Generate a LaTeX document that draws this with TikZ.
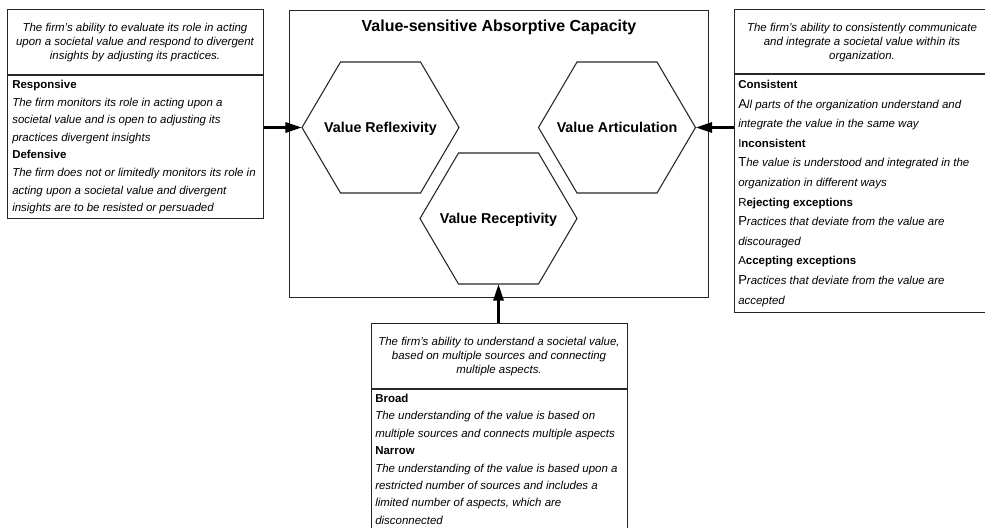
\documentclass[tikz,border=0pt]{standalone}
\usepackage{fontspec}
\setmainfont{Liberation Sans}
\usetikzlibrary{arrows.meta,calc}
\newcommand\capfirst[1]{{\upshape\fontsize{9.8}{9.8}\selectfont #1}}
\newcommand\hexagonat[1]{%
  \draw[hexline] ($(#1)+(-78.5,0)$) -- ($(#1)+(-40,-65.5)$) -- ($(#1)+(40,-65.5)$)
    -- ($(#1)+(78.5,0)$) -- ($(#1)+(40,65.5)$) -- ($(#1)+(-40,65.5)$) -- cycle;}
\begin{document}
\begin{tikzpicture}[x=0.75pt,y=-0.75pt,
  box/.style={draw=black!85, line width=0.8pt, inner sep=0, anchor=north west},
  hexline/.style={draw=black!85, line width=0.8pt},
  titlestyle/.style={font=\fontsize{12}{14}\selectfont\bfseries, inner sep=0, anchor=base},
  hexlabel/.style={font=\fontsize{10.7}{12}\selectfont\bfseries, inner sep=0, anchor=base},
  desc/.style={font=\fontsize{8.6}{10.5}\selectfont\itshape, align=center, inner sep=0, anchor=north},
  items/.style={align=left, inner sep=0, anchor=north west},
  conn/.style={line width=2.3pt, -{Triangle[length=12.5pt,width=7.5pt]}}
]
\useasboundingbox (0,0) rectangle (985,528);
\clip (0,0) rectangle (985,528);

% boxes
\node[box, minimum width=192pt, minimum height=156.75pt] (lbox) at (7,9) {};
\node[box, minimum width=192pt, minimum height=227.25pt] (rbox) at (734,9) {};
\node[box, minimum width=192pt, minimum height=166.5pt] (bbox) at (371,323) {};
\node[box, minimum width=314.25pt, minimum height=215.25pt] (mbox) at (289,10) {};

% dividers
\draw[hexline] (lbox.west |- 0,75) -- (lbox.east |- 0,75);
\draw[hexline] (rbox.west |- 0,74) -- (rbox.east |- 0,74);
\draw[hexline] (bbox.west |- 0,389) -- (bbox.east |- 0,389);

% title
\node[titlestyle] (ttl) at (499,31.5) {Value-sensitive Absorptive Capacity};

% hexagons
\coordinate (refl) at (380.5,127.5);
\coordinate (artc) at (617,127.5);
\coordinate (recp) at (498.5,218.5);
\hexagonat{refl}
\hexagonat{artc}
\hexagonat{recp}
\coordinate (reflW) at ($(refl)+(-78.5,0)$);
\coordinate (artcE) at ($(artc)+(78.5,0)$);
\coordinate (recpS) at ($(recp)+(0,65.5)$);
\node[hexlabel] (refllbl) at ($(refl)+(0,4.7)$) {Value Reflexivity};
\node[hexlabel] (artclbl) at ($(artc)+(0,4.7)$) {Value Articulation};
\node[hexlabel] (recplbl) at ($(recp)+(0,4.8)$) {Value Receptivity};

% arrows
\draw[conn] (lbox.east |- reflW) -- (reflW);
\draw[conn] (rbox.west |- artcE) -- (artcE);
\draw[conn] (bbox.north -| recpS) -- (recpS);

% left box texts
\node[desc] (ldesc) at (135,23.3) {The firm’s ability to evaluate its role in acting\\upon a societal value and respond to divergent\\insights by adjusting its practices.};
\node[items, font=\fontsize{8.6}{13.2}\selectfont] (litems) at (12,80) {%
\textbf{Responsive}\\
\textit{The firm monitors its role in acting upon a}\\
\textit{societal value and is open to adjusting its}\\
\textit{practices divergent insights}\\
\textbf{Defensive}\\
\textit{The firm does not or limitedly monitors its role in}\\
\textit{acting upon a societal value and divergent}\\
\textit{insights are to be resisted or persuaded}};

% right box texts
\node[desc] (rdesc) at (862,22.7) {The firm’s ability to consistently communicate\\and integrate a societal value within its\\organization.};
\node[items, font=\fontsize{8.6}{14.7}\selectfont] (ritems) at (738,80) {%
\textbf{Consistent}\\
\textit{\capfirst{A}ll parts of the organization understand and}\\
\textit{integrate the value in the same way}\\
I\textbf{nconsistent}\\
\textit{\capfirst{T}he value is understood and integrated in the}\\
\textit{organization in different ways}\\
R\textbf{ejecting exceptions}\\
\textit{\capfirst{P}ractices that deviate from the value are}\\
\textit{discouraged}\\
A\textbf{ccepting exceptions}\\
\textit{\capfirst{P}ractices that deviate from the value are}\\
\textit{accepted}};

% bottom box texts
\node[desc] (bdesc) at (499,337.3) {The firm’s ability to understand a societal value,\\based on multiple sources and connecting\\multiple aspects.};
\node[items, font=\fontsize{8.6}{13.05}\selectfont] (bitems) at (375,394) {%
\textbf{Broad}\\
\textit{The understanding of the value is based on}\\
\textit{multiple sources and connects multiple aspects}\\
\textbf{Narrow}\\
\textit{The understanding of the value is based upon a}\\
\textit{restricted number of sources and includes a}\\
\textit{limited number of aspects, which are}\\
\textit{disconnected}};
\end{tikzpicture}
\end{document}
